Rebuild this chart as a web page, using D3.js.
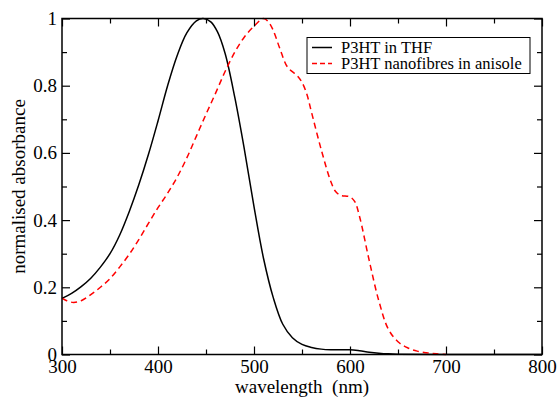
<!DOCTYPE html>
<html>
<head>
<meta charset="utf-8">
<script src="https://cdn.jsdelivr.net/npm/d3@7"></script>
<style>
  body { margin: 0; background: #fff; }
</style>
</head>
<body>
<svg id="chart" width="560" height="400"></svg>
<script>
// P3HT in THF (solid black)
const thfWave = [300, 310, 320, 330, 340, 350, 360, 370, 380, 390, 400, 410, 420, 430, 440, 447, 455, 462, 470, 480, 490, 500, 510, 520, 530, 540, 550, 560, 570, 580, 590, 600, 610, 620, 630, 640, 650, 700, 800];
const thfAbs  = [0.167, 0.182, 0.202, 0.227, 0.26, 0.30, 0.355, 0.425, 0.505, 0.595, 0.695, 0.80, 0.89, 0.957, 0.993, 1.0, 0.99, 0.96, 0.895, 0.765, 0.61, 0.44, 0.285, 0.17, 0.09, 0.05, 0.03, 0.021, 0.016, 0.014, 0.014, 0.014, 0.011, 0.007, 0.004, 0.002, 0.001, 0.0, 0.0];

// P3HT nanofibres in anisole (dashed red)
const fibreWave = [300, 305, 312, 320, 330, 340, 350, 360, 370, 380, 390, 400, 410, 420, 430, 440, 450, 460, 470, 480, 490, 500, 510, 515, 520, 527, 535, 545, 550, 555, 560, 570, 580, 585, 590, 600, 605, 610, 620, 630, 640, 650, 660, 670, 680, 690, 700];
const fibreAbs  = [0.168, 0.16, 0.155, 0.16, 0.178, 0.2, 0.226, 0.26, 0.298, 0.342, 0.39, 0.437, 0.48, 0.528, 0.585, 0.65, 0.715, 0.778, 0.843, 0.9, 0.945, 0.977, 1.0, 0.99, 0.965, 0.91, 0.855, 0.83, 0.81, 0.775, 0.72, 0.61, 0.515, 0.485, 0.474, 0.469, 0.455, 0.41, 0.28, 0.16, 0.075, 0.038, 0.02, 0.01, 0.005, 0.002, 0.0];

const xTicks = [300, 400, 500, 600, 700, 800];
const yTicks = [0, 0.2, 0.4, 0.6, 0.8, 1];
const legendLabels = ["P3HT in THF", "P3HT nanofibres in anisole"];

const svg = d3.select("#chart")
  .attr("font-family", "'Liberation Serif', 'DejaVu Serif', 'Times New Roman', serif");
const plotL = 62, plotR = 542, plotT = 18.5, plotB = 354.5;

const x = d3.scaleLinear().domain([300, 800]).range([plotL, plotR]);
const y = d3.scaleLinear().domain([0, 1]).range([plotB, plotT]);

const line = d3.line().x(d => x(d[0])).y(d => y(d[1])).curve(d3.curveCatmullRom.alpha(0.5));

svg.append("path")
  .datum(d3.zip(thfWave, thfAbs))
  .attr("d", line)
  .attr("fill", "none")
  .attr("stroke", "#000")
  .attr("stroke-width", 1.5);

svg.append("path")
  .datum(d3.zip(fibreWave, fibreAbs))
  .attr("d", line)
  .attr("fill", "none")
  .attr("stroke", "#ff0000")
  .attr("stroke-width", 1.5)
  .attr("stroke-dasharray", "6,4");

// axes: inward ticks on all four sides, xmgrace style
const xMinor = d3.range(350, 800, 100);
const yMinor = d3.range(0.1, 1, 0.2);

function drawAxis(axis, pos) {
  const g = svg.append("g").attr("transform", pos).call(axis);
  g.attr("font-family", null);
  g.select(".domain").remove();
  g.selectAll(".tick line").attr("stroke", "#000").attr("stroke-width", 1.2);
  return g;
}

const gx = drawAxis(d3.axisBottom(x).tickValues(xTicks).tickSizeInner(-8).tickPadding(8).tickFormat(d3.format("d")), `translate(0,${plotB})`);
gx.selectAll("text").attr("font-size", 19).attr("fill", "#000").attr("dy", "0.71em").attr("y", 5);
drawAxis(d3.axisBottom(x).tickValues(xMinor).tickSizeInner(-5).tickFormat(""), `translate(0,${plotB})`);
drawAxis(d3.axisTop(x).tickValues(xTicks).tickSizeInner(-8).tickFormat(""), `translate(0,${plotT})`);
drawAxis(d3.axisTop(x).tickValues(xMinor).tickSizeInner(-5).tickFormat(""), `translate(0,${plotT})`);

const gy = drawAxis(d3.axisLeft(y).tickValues(yTicks).tickSizeInner(-8).tickPadding(5).tickFormat(d => d === 0 || d === 1 ? d : d3.format(".1f")(d)), `translate(${plotL},0)`);
gy.selectAll("text").attr("font-size", 19).attr("fill", "#000").attr("x", -5);
drawAxis(d3.axisLeft(y).tickValues(yMinor).tickSizeInner(-5).tickFormat(""), `translate(${plotL},0)`);
drawAxis(d3.axisRight(y).tickValues(yTicks).tickSizeInner(-8).tickFormat(""), `translate(${plotR},0)`);
drawAxis(d3.axisRight(y).tickValues(yMinor).tickSizeInner(-5).tickFormat(""), `translate(${plotR},0)`);

svg.append("rect")
  .attr("x", plotL).attr("y", plotT)
  .attr("width", plotR - plotL).attr("height", plotB - plotT)
  .attr("fill", "none").attr("stroke", "#000").attr("stroke-width", 1.5);

svg.append("text")
  .attr("x", (plotL + plotR) / 2).attr("y", 393)
  .attr("text-anchor", "middle").attr("font-size", 19)
  .attr("xml:space", "preserve")
  .text("wavelength  (nm)");

svg.append("text")
  .attr("transform", `translate(25,${(plotT + plotB) / 2}) rotate(-90)`)
  .attr("text-anchor", "middle").attr("font-size", 19)
  .text("normalised absorbance");

// legend
const lg = svg.append("g");
lg.append("rect")
  .attr("x", 307).attr("y", 37.5).attr("width", 223).attr("height", 36)
  .attr("fill", "#fff").attr("stroke", "#000").attr("stroke-width", 1);
legendLabels.forEach((lab, i) => {
  const cy = 47.5 + i * 16;
  lg.append("line")
    .attr("x1", 312).attr("x2", 332).attr("y1", cy).attr("y2", cy)
    .attr("stroke", i === 0 ? "#000" : "#ff0000").attr("stroke-width", 1.5)
    .attr("stroke-dasharray", i === 0 ? null : "5,3");
  lg.append("text")
    .attr("x", 341).attr("y", cy + 5)
    .attr("font-size", 16.5)
    .text(lab);
});
</script>
</body>
</html>
